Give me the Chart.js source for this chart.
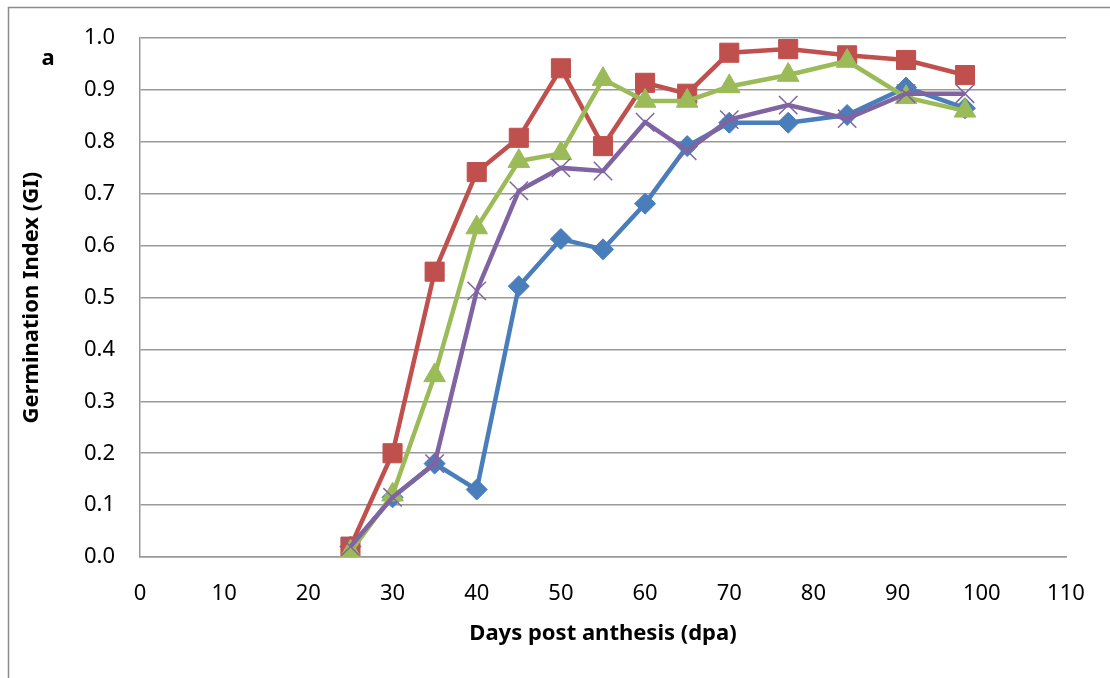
<!DOCTYPE html>
<html>
<head>
<meta charset="utf-8">
<script src="https://cdn.jsdelivr.net/npm/chart.js@4/dist/chart.umd.min.js"></script>
<style>
  html, body { margin: 0; padding: 0; background: #fff; }
  #wrap { width: 1110px; height: 678px; }
</style>
</head>
<body>
<div id="wrap"><canvas id="canvas" width="1110" height="678"></canvas></div>
<script>
// days post anthesis
let dias = [25, 30, 35, 40, 45, 50, 55, 60, 65, 70, 77, 84, 91, 98];

// germination index, one array per series
let azul   = [0.02, 0.115, 0.18, 0.13, 0.522, 0.613, 0.593, 0.681, 0.792, 0.837, 0.837, 0.852, 0.905, 0.865];
let rojo   = [0.02, 0.20, 0.55, 0.742, 0.808, 0.942, 0.792, 0.914, 0.893, 0.972, 0.979, 0.967, 0.958, 0.929];
let verde  = [0.01, 0.12, 0.35, 0.635, 0.763, 0.778, 0.921, 0.879, 0.879, 0.907, 0.929, 0.956, 0.886, 0.86];
let morado = [0.02, 0.115, 0.18, 0.513, 0.706, 0.75, 0.744, 0.838, 0.783, 0.843, 0.871, 0.845, 0.893, 0.893];

let xTicks = [0, 10, 20, 30, 40, 50, 60, 70, 80, 90, 100, 110];
let yTicks = [0, 0.1, 0.2, 0.3, 0.4, 0.5, 0.6, 0.7, 0.8, 0.9, 1.0];

function puntos(vals){
  let arr = [];
  for (let i = 0; i < dias.length; i++) {
    arr.push({x: dias[i], y: vals[i]});
  }
  return arr;
}

const fuente = "'Noto Sans', 'DejaVu Sans', sans-serif";

// frame around the figure plus the panel letter
const extras = {
  id: 'extras',
  afterDraw(chart){
    let c = chart.ctx;
    c.save();
    c.strokeStyle = '#8c8c8c';
    c.lineWidth = 1.5;
    c.beginPath();
    c.moveTo(8.5, 678);
    c.lineTo(8.5, 7.5);
    c.lineTo(1110, 7.5);
    c.stroke();
    c.fillStyle = '#000';
    c.font = "bold 22px " + fuente;
    c.textAlign = 'center';
    c.textBaseline = 'middle';
    c.fillText('a', 48, 59);
    c.restore();
  }
};

window.onload = function(){
  var ctx = document.getElementById('canvas');
  new Chart(ctx, {
    type: 'line',
    data: {
      datasets: [
        {
          data: puntos(azul),
          borderColor: '#4a7ebb',
          backgroundColor: '#4a7ebb',
          borderWidth: 4.5,
          pointStyle: 'rectRot',
          pointRadius: 10.5,
          pointBorderWidth: 1,
          order: 3
        },
        {
          data: puntos(rojo),
          borderColor: '#c0504d',
          backgroundColor: '#c0504d',
          borderWidth: 4.5,
          pointStyle: 'rect',
          pointRadius: 13.5,
          pointBorderWidth: 1,
          order: 2
        },
        {
          data: puntos(verde),
          borderColor: '#9bbb59',
          backgroundColor: '#9bbb59',
          borderWidth: 4.5,
          pointStyle: 'triangle',
          pointRadius: 12.5,
          pointBorderWidth: 1,
          order: 1
        },
        {
          data: puntos(morado),
          borderColor: '#8064a2',
          backgroundColor: '#8064a2',
          borderWidth: 4.5,
          pointStyle: 'crossRot',
          pointRadius: 13,
          pointBorderWidth: 1.5,
          order: 0
        }
      ]
    },
    options: {
      responsive: false,
      animation: false,
      layout: { padding: { left: 0, right: 44, top: 37, bottom: 0 } },
      plugins: {
        legend: { display: false },
        tooltip: { enabled: false }
      },
      scales: {
        x: {
          type: 'linear',
          min: 0,
          max: 110,
          afterFit: function(scale){ scale.height = 121; },
          afterBuildTicks: function(scale){ scale.ticks = xTicks.map(v => ({value: v})); },
          grid: { display: false, drawTicks: false },
          border: { display: true, color: '#999', width: 1.5 },
          ticks: {
            padding: 24,
            color: '#000',
            font: { family: fuente, size: 22 },
            maxRotation: 0
          },
          title: {
            display: true,
            text: 'Days post anthesis (dpa)',
            color: '#000',
            font: { family: fuente, size: 22, weight: 'bold' },
            padding: { top: 0, bottom: 31 }
          }
        },
        y: {
          min: 0,
          max: 1,
          afterFit: function(scale){ scale.width = 140; },
          afterBuildTicks: function(scale){ scale.ticks = yTicks.map(v => ({value: v})); },
          grid: { color: '#999', lineWidth: 1.5, drawTicks: false },
          border: { display: true, color: '#999', width: 1.5 },
          ticks: {
            padding: 25,
            color: '#000',
            font: { family: fuente, size: 22 },
            callback: function(v){ return Number(v).toFixed(1); }
          },
          title: {
            display: true,
            text: 'Germination Index (GI)',
            color: '#000',
            font: { family: fuente, size: 22, weight: 'bold' },
            padding: { top: 19, bottom: 0 }
          }
        }
      }
    },
    plugins: [extras]
  });
};
</script>
</body>
</html>
